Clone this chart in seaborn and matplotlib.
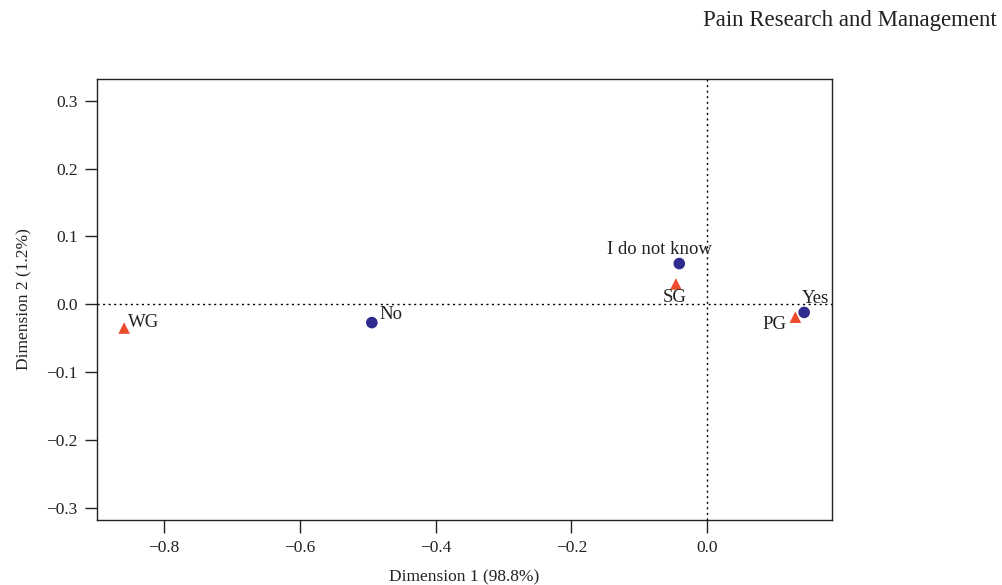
import pandas as pd
import seaborn as sns
import matplotlib
matplotlib.use("Agg")
import matplotlib.pyplot as plt

# Correspondence analysis: answer categories vs. groups
cat_names = ["Yes", "No", "I do not know"]
cat_x = [0.143, -0.494, -0.041]
cat_y = [-0.012, -0.027, 0.060]

grp_names = ["PG", "SG", "WG"]
grp_x = [0.130, -0.046, -0.859]
grp_y = [-0.019, 0.030, -0.035]

x_ticks = [-0.8, -0.6, -0.4, -0.2, 0.0]
y_ticks = [-0.3, -0.2, -0.1, 0.0, 0.1, 0.2, 0.3]

df = pd.concat([
    pd.DataFrame({"x": cat_x, "y": cat_y, "name": cat_names, "kind": "answer"}),
    pd.DataFrame({"x": grp_x, "y": grp_y, "name": grp_names, "kind": "group"}),
], ignore_index=True)

# Plot style
sns.set_style("white")
plt.rcParams['font.family'] = ['Liberation Serif', 'DejaVu Serif']
plt.rcParams['font.size'] = 12

fig = plt.figure(figsize=(10.03, 5.85), dpi=100)
ax = fig.add_axes([0.0967, 0.111, 0.7328, 0.754])

sns.scatterplot(data=df, x="x", y="y", hue="kind", style="kind",
                palette={"answer": "#2f2b8f", "group": "#ee4a2c"},
                markers={"answer": "o", "group": "^"},
                s=70, linewidth=0, legend=False, ax=ax)

# reference lines through the origin
ax.axvline(0, color="black", linestyle=(0, (1.5, 2.5)), linewidth=1, zorder=0)
ax.axhline(0, color="black", linestyle=(0, (1.5, 2.5)), linewidth=1, zorder=0)

# label offsets in points (dx, dy)
offsets = {
    "Yes": (8, 10),
    "No": (14, 6),
    "I do not know": (-14, 10),
    "PG": (-15, -5),
    "SG": (-1, -10),
    "WG": (14, 4),
}
for _, r in df.iterrows():
    dx, dy = offsets[r["name"]]
    ax.annotate(r["name"], (r["x"], r["y"]), xytext=(dx, dy),
                textcoords="offset points", ha="center", va="center",
                fontsize=13.5, color="#222222")

ax.set_xlim(-0.899, 0.184)
ax.set_ylim(-0.318, 0.332)
ax.set_xticks(x_ticks)
ax.set_yticks(y_ticks)
ax.set_xticklabels([f"{v:.1f}".replace("-", "\u2212") for v in x_ticks])
ax.set_yticklabels([f"{v:.1f}".replace("-", "\u2212") for v in y_ticks])
ax.tick_params(direction="out", length=9, width=1, pad=5, labelsize=12.5,
               colors="#222222", bottom=True, left=True)
for sp in ax.spines.values():
    sp.set_visible(True)
    sp.set_color("#222222")
    sp.set_linewidth(1)

ax.set_xlabel("Dimension 1 (98.8%)", fontsize=12.5, color="#222222", labelpad=10)
ax.set_ylabel("Dimension 2 (1.2%)", fontsize=12.5, color="#222222", labelpad=10)

fig.text(0.701, 0.956, "Pain Research and Management", fontsize=16.5,
         ha="left", va="baseline", color="#222222")

plt.savefig("out.png", dpi=100)
